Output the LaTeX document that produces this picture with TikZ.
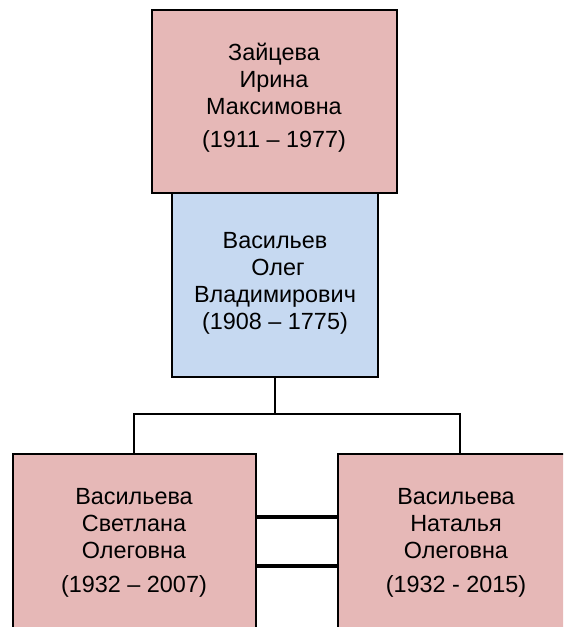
\documentclass[tikz,border=0pt]{standalone}
\usepackage{fontspec}
\setmainfont{Liberation Sans}
\definecolor{pinkfill}{HTML}{E6B8B7}
\definecolor{bluefill}{HTML}{C6D9F1}
\begin{document}
\begin{tikzpicture}[x=1pt,y=-1pt,
  box/.style={draw=black, line width=2pt, inner sep=0pt, outer sep=0pt, anchor=north west},
  female/.style={box, fill=pinkfill},
  male/.style={box, fill=bluefill},
  person/.style={align=center, font=\fontsize{23.4}{27}\selectfont, inner sep=0pt, anchor=base},
  link/.style={draw=black, line width=2pt},
  tie/.style={draw=black, line width=3.5pt}]
\useasboundingbox (0,0) rectangle (563,627);
\clip (0,0) rectangle (563,627);
% boxes
\node[male, minimum width=206pt, minimum height=184pt] (oleg) at (172,193) {};
\node[female, minimum width=245pt, minimum height=183pt] (irina) at (152,10) {};
\node[female, minimum width=243pt, minimum height=200pt] (svetlana) at (12.7,454) {};
\node[female, minimum width=243pt, minimum height=200pt] (natalya) at (338,454) {};
% texts (anchored at the baseline of the last line)
\node[person] (tirina) at (274,147) {Зайцева\\Ирина\\Максимовна\\[6pt](1911 – 1977)};
\node[person] (toleg) at (275,329) {Васильев\\\hspace*{6pt}Олег\\Владимирович\\(1908 – 1775)};
\node[person] (tsvetlana) at (134,592) {Васильева\\Светлана\\Олеговна\\[7pt](1932 – 2007)};
\node[person] (tnatalya) at (456,592) {Васильева\\Наталья\\Олеговна\\[7pt](1932 - 2015)};
% connectors
\coordinate (fork) at (275,414);
\draw[link] (oleg.south) -- (fork);
\draw[link] (svetlana.north) |- (fork) -| (natalya.north);
\coordinate (y1) at (0,517);
\coordinate (y2) at (0,566);
\draw[tie] (svetlana.east |- y1) -- (natalya.west |- y1);
\draw[tie] (svetlana.east |- y2) -- (natalya.west |- y2);
\end{tikzpicture}
\end{document}
